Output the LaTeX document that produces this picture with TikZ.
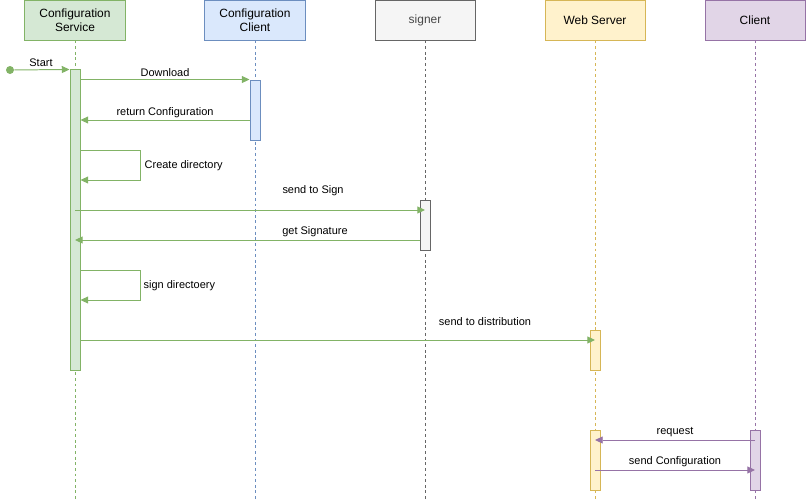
\documentclass[tikz,border=0pt]{standalone}
\usepackage{fontspec}
\setmainfont{Liberation Sans}
\usetikzlibrary{arrows.meta}

\definecolor{grfill}{HTML}{D5E8D4}
\definecolor{grline}{HTML}{82B366}
\definecolor{blfill}{HTML}{DAE8FC}
\definecolor{blline}{HTML}{6C8EBF}
\definecolor{gyfill}{HTML}{F5F5F5}
\definecolor{gyline}{HTML}{666666}
\definecolor{yefill}{HTML}{FFF2CC}
\definecolor{yeline}{HTML}{D6B656}
\definecolor{pufill}{HTML}{E1D5E7}
\definecolor{puline}{HTML}{9673A6}

\tikzset{
  head/.style={draw, line width=0.7pt, minimum width=2.5cm, minimum height=1cm,
    align=center, inner sep=1pt, font=\fontsize{8.5}{10}\selectfont},
  actbar/.style={draw, line width=0.7pt, minimum width=0.25cm, inner sep=0pt},
  life/.style={dash pattern=on 2pt off 2pt, line width=0.5pt},
  msg/.style={-{Triangle[length=5.5pt,width=5pt]}, line width=0.7pt},
  lbl/.style={font=\fontsize{7.8}{9}\selectfont, inner sep=1pt}
}

\begin{document}
\begin{tikzpicture}[x=0.025cm, y=-0.025cm]
                    \useasboundingbox (0,0) rectangle (806,501);
                    % Heads
                    \node[head, fill=grfill, draw=grline] (cs) at (75,20) {Configuration\\Service};
                    \node[head, fill=blfill, draw=blline] (cc) at (255,20) {Configuration\\Client};
                    \node[head, fill=gyfill, draw=gyline, text=gyline!70!black] (sg) at (425,20) {signer};
                    \node[head, fill=yefill, draw=yeline] (ws) at (595,20) {Web Server};
                    \node[head, fill=pufill, draw=puline] (cl) at (755,20) {Client};
                    % Lifelines
                    \draw[life, grline] (cs.south) -- (75,501);
                    \draw[life, blline] (cc.south) -- (255,501);
                    \draw[life, gyline] (sg.south) -- (425,501);
                    \draw[life, yeline] (ws.south) -- (595,501);
                    \draw[life, puline] (cl.south) -- (755,501);
                    % Activation bars
                    \node[actbar, fill=grfill, draw=grline, minimum height=7.5cm] (csbar) at (75,220) {};
                    \node[actbar, fill=blfill, draw=blline, minimum height=1.5cm] (ccbar) at (255,110) {};
                    \node[actbar, fill=gyfill, draw=gyline, minimum height=1.25cm] (sgbar) at (425,225) {};
                    \node[actbar, fill=yefill, draw=yeline, minimum height=1cm] (wsbar) at (595,350) {};
                    \node[actbar, fill=yefill, draw=yeline, minimum height=1.5cm] (wsbarb) at (595,460) {};
                    \node[actbar, fill=pufill, draw=puline, minimum height=1.5cm] (clbar) at (755,460) {};
                    % Start
                    \node[circle, fill=grline, inner sep=0pt, minimum size=0.2cm] (start) at (10,70) {};
                    \draw[msg, grline] (start) -- (csbar.north west);
                    \node[lbl] at (41,63) {Start};
                    % Configuration Service <-> Configuration Client
                    \draw[msg, grline] (csbar.east |- ccbar.north) -- (ccbar.north west);
                    \node[lbl] at (165,73) {Download};
                    \draw[msg, grline] (ccbar.west |- 0,120) -- (csbar.east |- 0,120);
                    \node[lbl] at (165,112.5) {return Configuration};
                    % Self calls
                    \draw[msg, grline] (csbar.east |- 0,150) -- (140,150) |- (csbar.east |- 0,180);
                    \node[lbl, anchor=west] at (143,166) {Create directory};
                    \draw[msg, grline] (csbar.east |- 0,270) -- (140,270) |- (csbar.east |- 0,300);
                    \node[lbl, anchor=west] at (142,286) {sign directoery};
                    % Signer
                    \draw[msg, grline] (csbar.center |- 0,210) -- (sgbar.center |- 0,210);
                    \node[lbl] at (313,191) {send to Sign};
                    \draw[msg, grline] (sgbar.west |- 0,240) -- (csbar.center |- 0,240);
                    \node[lbl] at (315,232) {get Signature};
                    % Web Server
                    \draw[msg, grline] (csbar.east |- 0,340) -- (wsbar.center |- 0,340);
                    \node[lbl] at (485,322) {send to distribution};
                    % Client <-> Web Server
                    \draw[msg, puline] (clbar.center |- 0,440) -- (wsbarb.center |- 0,440);
                    \node[lbl] at (675,432) {request};
                    \draw[msg, puline] (wsbarb.center |- 0,470) -- (clbar.center |- 0,470);
                    \node[lbl] at (675,462) {send Configuration};

\end{tikzpicture}
\end{document}
